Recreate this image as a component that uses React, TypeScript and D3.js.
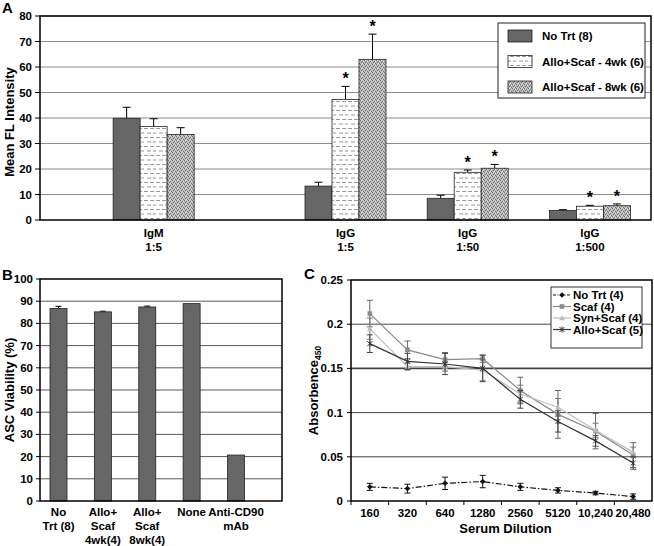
import React from 'react';
import * as d3 from 'd3';

// ---------- Panel A data ----------
const aCategories = ['IgM|1:5', 'IgG|1:5', 'IgG|1:50', 'IgG|1:500'];
const aSeries = ['No Trt (8)', 'Allo+Scaf - 4wk (6)', 'Allo+Scaf - 8wk (6)'];
const aNoTrt = [39.9, 13.3, 8.5, 3.7];
const aNoTrtErr = [4.3, 1.5, 1.2, 0.35];
const a4wk = [36.7, 47.3, 18.7, 5.4];
const a4wkErr = [3.0, 5.1, 0.9, 0.35];
const a8wk = [33.5, 63.0, 20.3, 5.6];
const a8wkErr = [2.7, 9.9, 1.5, 0.7];
const aNoTrtSig = [false, false, false, false];
const a4wkSig = [false, true, true, true];
const a8wkSig = [false, true, true, true];
const aYTicks = [0, 10, 20, 30, 40, 50, 60, 70, 80];

// ---------- Panel B data ----------
const bCategories = ['No|Trt (8)', 'Allo+|Scaf|4wk(4)', 'Allo+|Scaf|8wk(4)', 'None', 'Anti-CD90|mAb'];
const bValues = [86.7, 85.2, 87.4, 88.9, 20.7];
const bErrors = [1.0, 0.3, 0.4, 0, 0];
const bYTicks = [0, 10, 20, 30, 40, 50, 60, 70, 80, 90, 100];

// ---------- Panel C data ----------
const cDilutions = ['160', '320', '640', '1280', '2560', '5120', '10,240', '20,480'];
const cSeriesNames = ['No Trt (4)', 'Scaf (4)', 'Syn+Scaf (4)', 'Allo+Scaf (5)'];
const cNoTrt = [0.016, 0.014, 0.020, 0.022, 0.016, 0.012, 0.009, 0.005];
const cNoTrtErr = [0.004, 0.005, 0.007, 0.007, 0.004, 0.003, 0.002, 0.003];
const cScaf = [0.212, 0.171, 0.160, 0.161, 0.125, 0.098, 0.079, 0.052];
const cScafErr = [0.015, 0.010, 0.008, 0.004, 0.015, 0.027, 0.020, 0.014];
const cSyn = [0.195, 0.152, 0.152, 0.148, 0.121, 0.106, 0.080, 0.055];
const cSynErr = [0.012, 0.004, 0.005, 0.012, 0.010, 0.010, 0.008, 0.006];
const cAllo = [0.178, 0.158, 0.155, 0.150, 0.115, 0.090, 0.068, 0.043];
const cAlloErr = [0.010, 0.009, 0.012, 0.015, 0.010, 0.012, 0.006, 0.007];
const cYTicks = [0, 0.05, 0.1, 0.15, 0.2, 0.25];

const FONT = '"Liberation Sans", Arial, sans-serif';

// ---------- layout ----------
const A = { left: 40, right: 651, top: 16, bottom: 220 };
const B = { left: 40, right: 282, top: 279, bottom: 501 };
const C = { left: 351, right: 652, top: 280, bottom: 501 };
// Panel A category slots (IgM group sits apart from the IgG groups)
const aGroupSlots = [0.93, 2.5, 3.5, 4.5];

const aFills = ['#666666', 'url(#dashPat)', 'url(#dotPat)'];

export default function App() {
  // ---- Panel A scales
  const aSlot = d3.scaleLinear().domain([0, 5]).range([A.left, A.right]);
  const aInner = d3.scaleBand().domain(aSeries).range([-40.5, 40.5]).padding(0);
  const aY = d3.scaleLinear().domain([0, 80]).range([A.bottom, A.top]);
  const aVals = [aNoTrt, a4wk, a8wk];
  const aErrs = [aNoTrtErr, a4wkErr, a8wkErr];
  const aSigs = [aNoTrtSig, a4wkSig, a8wkSig];

  // ---- Panel B scales
  const bX = d3.scalePoint().domain(bCategories).range([58.5, 236]);
  const bY = d3.scaleLinear().domain([0, 100]).range([B.bottom, B.top]);
  const bBarW = 17;

  // ---- Panel C scales
  const cX = d3.scaleBand().domain(cDilutions).range([C.left, C.right]);
  const cx = (d: string) => (cX(d) as number) + cX.bandwidth() / 2;
  const cY = d3.scaleLinear().domain([0, 0.25]).range([C.bottom, C.top]);
  const cSeries = [
    { name: cSeriesNames[0], vals: cNoTrt, errs: cNoTrtErr, color: '#111', dash: '6,2,1.5,2', marker: 'diamond', err: '#111' },
    { name: cSeriesNames[1], vals: cScaf, errs: cScafErr, color: '#8a8a8a', dash: null, marker: 'square', err: '#666' },
    { name: cSeriesNames[2], vals: cSyn, errs: cSynErr, color: '#bdbdbd', dash: null, marker: 'triangle', err: '#777' },
    { name: cSeriesNames[3], vals: cAllo, errs: cAlloErr, color: '#333', dash: null, marker: 'x', err: '#444' },
  ];
  const line = d3.line<number>().x((_, i) => cx(cDilutions[i])).y((v) => cY(v));

  const marker = (type: string, x: number, y: number, color: string, key: string) => {
    if (type === 'diamond') return <path key={key} d={`M${x},${y - 2.8}L${x + 2.8},${y}L${x},${y + 2.8}L${x - 2.8},${y}Z`} fill={color} />;
    if (type === 'square') return <rect key={key} x={x - 2.3} y={y - 2.3} width={4.6} height={4.6} fill={color} />;
    if (type === 'triangle') return <path key={key} d={`M${x},${y - 2.8}L${x + 2.8},${y + 2.2}L${x - 2.8},${y + 2.2}Z`} fill={color} />;
    return <path key={key} d={`M${x - 2.5},${y - 2.5}L${x + 2.5},${y + 2.5}M${x + 2.5},${y - 2.5}L${x - 2.5},${y + 2.5}M${x},${y - 3}L${x},${y + 3}`} stroke={color} strokeWidth={1} />;
  };

  const tickStyle = { fontFamily: FONT, fontWeight: 700, fontSize: 11.5, fill: '#000' } as const;

  return (
    <svg width={654} height={546} style={{ position: 'absolute', left: 0, top: 0, background: '#fff' }} fontFamily={FONT}>
      <defs>
        <pattern id="dashPat" width={12} height={9} patternUnits="userSpaceOnUse">
          <rect width={12} height={9} fill="#fff" />
          <path d="M0,2.5H4M6,2.5H10M3,7H7M9,7H13" stroke="#9a9a9a" strokeWidth={1} />
        </pattern>
        <pattern id="dotPat" width={4} height={4} patternUnits="userSpaceOnUse">
          <rect width={4} height={4} fill="#b8b8b8" />
          <rect x={0} y={0} width={1} height={1} fill="#6e6e6e" />
          <rect x={2} y={1} width={1} height={1} fill="#6e6e6e" />
          <rect x={1} y={2} width={1} height={1} fill="#6e6e6e" />
          <rect x={3} y={3} width={1} height={1} fill="#6e6e6e" />
          <rect x={3} y={1} width={1} height={1} fill="#e0e0e0" />
          <rect x={1} y={0} width={1} height={1} fill="#e0e0e0" />
          <rect x={2} y={3} width={1} height={1} fill="#e0e0e0" />
        </pattern>
      </defs>
      <rect width={654} height={546} fill="#fff" />

      {/* ================= Panel A ================= */}
      <text x={2} y={13} fontSize={15} fontWeight={700}>A</text>
      {aYTicks.filter((t) => t > 0).map((t) => (
        <line key={'ag' + t} x1={A.left} x2={A.right} y1={aY(t)} y2={aY(t)} stroke="#8c8c8c" strokeWidth={1.2} />
      ))}
      {aYTicks.map((t) => (
        <g key={'at' + t}>
          <line x1={A.left - 5} x2={A.left} y1={aY(t)} y2={aY(t)} stroke="#000" />
          <text x={A.left - 8} y={aY(t) + 4} textAnchor="end" style={tickStyle}>{t}</text>
        </g>
      ))}
      <text transform={`translate(14,${(A.top + A.bottom) / 2 + 4}) rotate(-90)`} textAnchor="middle" fontSize={13} fontWeight={700}>Mean FL Intensity</text>
      {aCategories.map((cat, ci) => {
        const center = aSlot(aGroupSlots[ci]);
        return (
          <g key={'ac' + ci}>
            {aSeries.map((s, si) => {
              const x0 = center + (aInner(s) as number);
              const w = aInner.bandwidth();
              const v = aVals[si][ci];
              const e = aErrs[si][ci];
              const top = aY(v + e);
              return (
                <g key={s}>
                  <line x1={x0 + w / 2} x2={x0 + w / 2} y1={aY(v)} y2={top} stroke="#000" strokeWidth={1} />
                  <line x1={x0 + w / 2 - 4} x2={x0 + w / 2 + 4} y1={top} y2={top} stroke="#000" strokeWidth={1} />
                  <rect x={x0} y={aY(v)} width={w} height={A.bottom - aY(v)} fill={aFills[si]} stroke="#222" strokeWidth={0.8} />
                  {aSigs[si][ci] && (
                    <text x={x0 + w / 2} y={top - 2} textAnchor="middle" fontSize={16} fontWeight={700}>*</text>
                  )}
                </g>
              );
            })}
            {cat.split('|').map((ln, li) => (
              <text key={li} x={center} y={237 + li * 14} textAnchor="middle" style={tickStyle}>{ln}</text>
            ))}
          </g>
        );
      })}
      <rect x={A.left} y={A.top} width={A.right - A.left} height={A.bottom - A.top} fill="none" stroke="#000" strokeWidth={1.5} />
      {/* Legend A */}
      <rect x={498} y={23} width={147} height={75} fill="#fff" stroke="#222" strokeWidth={1} />
      {aSeries.map((s, i) => (
        <g key={'al' + i}>
          <rect x={508} y={30 + i * 25.5} width={24} height={12} fill={aFills[i]} stroke="#222" strokeWidth={0.8} />
          <text x={542} y={40 + i * 25.5} style={tickStyle}>{s}</text>
        </g>
      ))}

      {/* ================= Panel B ================= */}
      <text x={2} y={280} fontSize={15} fontWeight={700}>B</text>
      {bYTicks.filter((t) => t > 0 && t < 100).map((t) => (
        <line key={'bg' + t} x1={B.left} x2={B.right} y1={bY(t)} y2={bY(t)} stroke="#5a5a5a" strokeWidth={1} />
      ))}
      {bYTicks.map((t) => (
        <g key={'bt' + t}>
          <line x1={B.left - 4} x2={B.left} y1={bY(t)} y2={bY(t)} stroke="#000" />
          <text x={B.left - 7} y={bY(t) + 4} textAnchor="end" style={tickStyle}>{t}</text>
        </g>
      ))}
      <text transform={`translate(14,${(B.top + B.bottom) / 2}) rotate(-90)`} textAnchor="middle" fontSize={13} fontWeight={700}>ASC Viability (%)</text>
      {bCategories.map((cat, i) => {
        const x = bX(cat) as number;
        const v = bValues[i];
        const e = bErrors[i];
        return (
          <g key={'bb' + i}>
            {e > 0 && (
              <g>
                <line x1={x} x2={x} y1={bY(v)} y2={bY(v + e)} stroke="#000" />
                <line x1={x - 3} x2={x + 3} y1={bY(v + e)} y2={bY(v + e)} stroke="#000" />
              </g>
            )}
            <rect x={x - bBarW / 2} y={bY(v)} width={bBarW} height={B.bottom - bY(v)} fill="#666666" stroke="#222" strokeWidth={0.8} />
            {cat.split('|').map((ln, li) => (
              <text key={li} x={x} y={516 + li * 14} textAnchor="middle" style={tickStyle}>{ln}</text>
            ))}
          </g>
        );
      })}
      <rect x={B.left} y={B.top} width={B.right - B.left} height={B.bottom - B.top} fill="none" stroke="#000" strokeWidth={1.5} />

      {/* ================= Panel C ================= */}
      <text x={304} y={279} fontSize={15} fontWeight={700}>C</text>
      {cYTicks.filter((t) => t > 0 && t < 0.25).map((t) => (
        <line key={'cg' + t} x1={C.left} x2={C.right} y1={cY(t)} y2={cY(t)} stroke="#444" strokeWidth={t === 0.15 ? 1.6 : 1} />
      ))}
      {cYTicks.map((t) => (
        <g key={'ct' + t}>
          <line x1={C.left - 4} x2={C.left} y1={cY(t)} y2={cY(t)} stroke="#000" />
          <text x={C.left - 8} y={cY(t) + 4} textAnchor="end" style={tickStyle}>{String(t)}</text>
        </g>
      ))}
      {cDilutions.map((d) => (
        <text key={'cx' + d} x={cx(d)} y={517} textAnchor="middle" style={tickStyle}>{d}</text>
      ))}
      {cDilutions.map((d, i) => (
        <line key={'cxt' + i} x1={cX(d) as number} x2={cX(d) as number} y1={C.bottom} y2={C.bottom + 4} stroke="#000" />
      ))}
      <text x={(C.left + C.right) / 2 + 4} y={533} textAnchor="middle" fontSize={13} fontWeight={700}>Serum Dilution</text>
      <text transform={`translate(318,${(C.top + C.bottom) / 2}) rotate(-90)`} textAnchor="middle" fontSize={13} fontWeight={700}>
        Absorbence<tspan fontSize={8.5} dy={3}>450</tspan>
      </text>
      {cSeries.map((s, si) => (
        <g key={'cs' + si}>
          {s.vals.map((v, i) => {
            const x = cx(cDilutions[i]);
            const y1 = cY(v - s.errs[i]);
            const y2 = cY(v + s.errs[i]);
            return (
              <g key={i}>
                <line x1={x} x2={x} y1={y1} y2={y2} stroke={s.err} strokeWidth={1} />
                <line x1={x - 3} x2={x + 3} y1={y1} y2={y1} stroke={s.err} strokeWidth={1} />
                <line x1={x - 3} x2={x + 3} y1={y2} y2={y2} stroke={s.err} strokeWidth={1} />
              </g>
            );
          })}
          <path d={line(s.vals) as string} fill="none" stroke={s.color} strokeWidth={1.2} strokeDasharray={s.dash ?? undefined} />
          {s.vals.map((v, i) => marker(s.marker, cx(cDilutions[i]), cY(v), s.color, 'm' + i))}
        </g>
      ))}
      <rect x={C.left} y={C.top} width={C.right - C.left} height={C.bottom - C.top} fill="none" stroke="#000" strokeWidth={1.5} />
      {/* Legend C */}
      <rect x={551} y={287} width={91} height={61} fill="#fff" stroke="#333" strokeWidth={1} />
      {cSeries.map((s, i) => {
        const y = 295 + i * 11.5;
        return (
          <g key={'cl' + i}>
            <line x1={553} x2={571} y1={y} y2={y} stroke={s.color} strokeWidth={1.2} strokeDasharray={s.dash ? '3,1.5,1,1.5' : undefined} />
            {marker(s.marker, 562, y, s.color, 'lm' + i)}
            <text x={573} y={y + 4} style={tickStyle}>{s.name}</text>
          </g>
        );
      })}
    </svg>
  );
}
